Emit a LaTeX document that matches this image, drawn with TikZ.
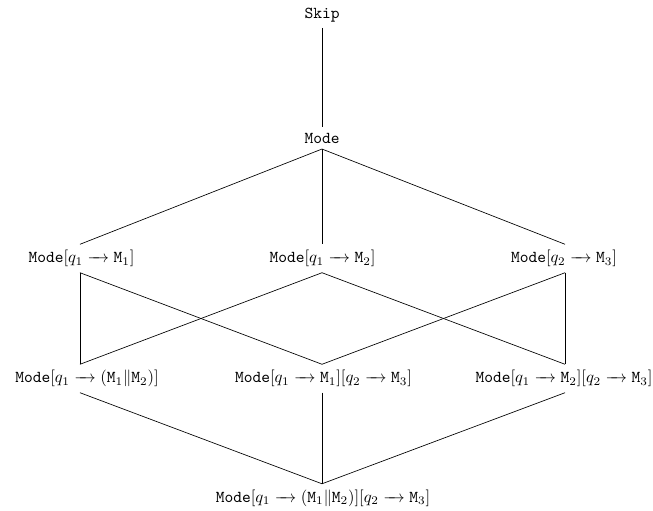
\documentclass[tikz,border=0pt]{standalone}
\newcommand{\myarr}{\mathrel{\relbar\mkern-9mu\rightarrow}}
\begin{document}
\begin{tikzpicture}[x=0.6pt,y=-0.6pt,
  lbl/.style={inner sep=3.333pt},
  conn/.style={draw=black,line width=0.4pt}]
\useasboundingbox (0,0) rectangle (653,510);
\coordinate (c1) at (80,0);
\coordinate (c2) at (322,0);
\coordinate (c3) at (565,0);
\node[lbl] (skip) at (322,15) {\texttt{Skip}};
\node[lbl] (mode) at (322,138) {\texttt{Mode}};
\node[lbl] (a) at (81.5,258.5) {$\texttt{Mode}[q_1 \myarr \texttt{M}_1]$};
\node[lbl] (b) at (322.5,258.5) {$\texttt{Mode}[q_1 \myarr \texttt{M}_2]$};
\node[lbl] (c) at (564,258.5) {$\texttt{Mode}[q_2 \myarr \texttt{M}_3]$};
\node[lbl] (d) at (87,378.5) {$\texttt{Mode}[q_1 \myarr (\texttt{M}_1\|\texttt{M}_2)]$};
\node[lbl] (e) at (323.5,378.5) {$\texttt{Mode}[q_1 \myarr \texttt{M}_1][q_2 \myarr \texttt{M}_3]$};
\node[lbl] (f) at (564,378.5) {$\texttt{Mode}[q_1 \myarr \texttt{M}_2][q_2 \myarr \texttt{M}_3]$};
\node[lbl] (g) at (323,498) {$\texttt{Mode}[q_1 \myarr (\texttt{M}_1\|\texttt{M}_2)][q_2 \myarr \texttt{M}_3]$};
\draw[conn] (skip.south -| c2) -- (mode.north -| c2);
\draw[conn] (mode.south -| c2) -- (a.north -| c1);
\draw[conn] (mode.south -| c2) -- (b.north -| c2);
\draw[conn] (mode.south -| c2) -- (c.north -| c3);
\draw[conn] (a.south -| c1) -- (d.north -| c1);
\draw[conn] (a.south -| c1) -- (e.north -| c2);
\draw[conn] (b.south -| c2) -- (d.north -| c1);
\draw[conn] (b.south -| c2) -- (f.north -| c3);
\draw[conn] (c.south -| c3) -- (e.north -| c2);
\draw[conn] (c.south -| c3) -- (f.north -| c3);
\draw[conn] (d.south -| c1) -- (g.north -| c2);
\draw[conn] (e.south -| c2) -- (g.north -| c2);
\draw[conn] (f.south -| c3) -- (g.north -| c2);
\end{tikzpicture}
\end{document}
